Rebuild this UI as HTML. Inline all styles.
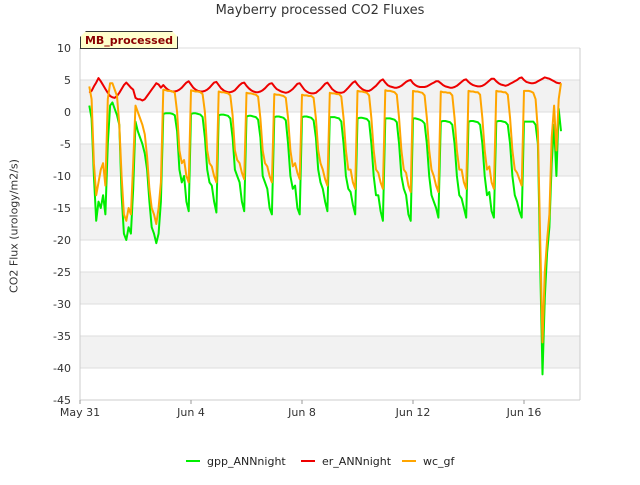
<!DOCTYPE html>
<html><head><meta charset="utf-8"><style>
body{margin:0;background:#fff;font-family:"Liberation Sans","DejaVu Sans",sans-serif}
svg text{font-family:"DejaVu Sans","Liberation Sans",sans-serif}
</style></head><body>
<svg id="c" width="640" height="480"></svg>
<script>
const yTicks=[10,5,0,-5,-10,-15,-20,-25,-30,-35,-40,-45];
const xTickDays=[0,4,8,12,16];
const xTickLabels=["May 31","Jun 4","Jun 8","Jun 12","Jun 16"];
const seriesNames=["gpp_ANNnight","er_ANNnight","wc_gf"];
const gpp=[1,-1,-10,-17,-14,-15,-13,-16,
-5,1,1.5,0.5,-0.5,-2,-13,-19,-20,-18,-19,-12,
-1.5,-3,-4,-5,-6.5,-9,-14,-18,-19,-20.5,-19,-14,
-0.3,-0.2,-0.2,-0.2,-0.3,-0.5,-3,-9,-11,-10,-14,-15.5,
-0.3,-0.2,-0.2,-0.3,-0.4,-0.8,-4,-9,-11,-11.5,-14,-15.7,
-0.5,-0.4,-0.4,-0.5,-0.6,-1,-4,-9,-10,-11,-14,-15.5,
-0.7,-0.6,-0.6,-0.7,-0.8,-1.2,-4,-10,-11,-12,-15,-16,
-0.8,-0.7,-0.7,-0.8,-0.9,-1.3,-5,-10,-12,-11.5,-15,-16,
-0.8,-0.7,-0.7,-0.8,-0.9,-1.3,-4,-9,-11,-12,-14,-15.5,
-0.8,-0.8,-0.8,-0.9,-1,-1.5,-5,-10,-12,-12.5,-14.5,-16,
-1,-0.9,-0.9,-1,-1.1,-1.5,-5,-10,-13,-13,-15.5,-17,
-1,-1,-1,-1.1,-1.2,-1.6,-5,-10,-12,-13,-16,-17,
-1,-1,-1.1,-1.2,-1.4,-1.8,-5,-10,-13,-14,-15,-16.5,
-1.5,-1.4,-1.4,-1.5,-1.6,-2,-5,-10,-13,-13.5,-15,-16.5,
-1.5,-1.4,-1.4,-1.5,-1.6,-2,-5,-10,-13,-12.5,-15.5,-16.5,
-1.5,-1.4,-1.4,-1.5,-1.6,-2,-5,-10,-13,-14,-15.5,-16.5,
-1.5,-1.5,-1.5,-1.5,-1.5,-2,-5,-24,-41,-29,-22,-18,
-8,-2,-10,0.5,-3];
const er=[3,3.3,4,4.6,5.3,4.8,4.2,3.6,
3,2.5,2.3,2.2,2.5,3,3.6,4.2,4.6,4.2,3.8,3.5,
2.2,2,2,1.8,2,2.5,3,3.5,4,4.5,4.3,3.8,
4.2,3.8,3.5,3.3,3.2,3.2,3.3,3.5,3.8,4.2,4.6,4.8,
4.3,3.8,3.5,3.3,3.2,3.2,3.3,3.5,3.8,4.2,4.6,4.7,
4.2,3.7,3.4,3.2,3.1,3.1,3.2,3.4,3.8,4.2,4.5,4.6,
4.1,3.7,3.4,3.2,3.1,3.1,3.2,3.4,3.7,4.1,4.4,4.5,
4.0,3.6,3.4,3.2,3.1,3.0,3.1,3.3,3.6,4.0,4.4,4.5,
4.0,3.5,3.2,3.0,2.9,2.9,3.0,3.3,3.6,4.0,4.4,4.6,
4.1,3.6,3.3,3.1,3.0,3.0,3.1,3.4,3.8,4.2,4.6,4.8,
4.3,3.9,3.6,3.4,3.3,3.3,3.5,3.8,4.1,4.5,4.9,5.1,
4.6,4.2,4.0,3.9,3.8,3.8,3.9,4.1,4.4,4.7,4.9,5.0,
4.5,4.2,4.0,3.9,3.9,3.9,4.0,4.2,4.4,4.6,4.8,4.8,
4.5,4.2,4.0,3.9,3.8,3.8,3.9,4.1,4.4,4.7,5.0,5.1,
4.7,4.4,4.2,4.1,4.0,4.0,4.1,4.3,4.6,4.9,5.2,5.2,
4.8,4.5,4.3,4.2,4.1,4.2,4.4,4.6,4.8,5.0,5.3,5.4,
5.0,4.7,4.6,4.5,4.5,4.6,4.8,5.0,5.2,5.4,5.3,5.2,
5.0,4.8,4.6,4.5,4.5];
const wc=[4,2,-8,-13,-11,-9,-8,-11.5,
2,4.5,4.5,3.5,2.5,-2,-10,-16,-17,-15,-16,-8,
1,0,-1,-2,-3.5,-7,-12,-15,-16,-17.5,-15,-11,
3.5,3.4,3.3,3.3,3.2,3,0,-6,-8,-7.5,-10,-11,
3.4,3.3,3.2,3.2,3.1,2.8,0,-6,-8,-8.5,-10,-11,
3.2,3.1,3.1,3,2.9,2.6,-0.5,-6,-7.5,-8,-9.5,-10.5,
3,2.9,2.9,2.8,2.7,2.4,-1,-6,-8,-8.5,-10,-11,
2.8,2.7,2.7,2.6,2.5,2.2,-1,-6,-8.5,-8,-9.5,-10.5,
2.7,2.6,2.6,2.5,2.5,2.2,-1,-6,-8,-9,-10.5,-11.5,
3,2.9,2.9,2.8,2.8,2.4,-1,-6,-9,-9,-11,-12,
3.3,3.2,3.2,3.1,3,2.6,-1,-6,-9,-9.5,-11,-12,
3.4,3.3,3.3,3.2,3.1,2.7,-1,-6,-9,-9.5,-11.5,-12.5,
3.3,3.2,3.2,3.1,3,2.6,-1,-6,-9,-10,-11.5,-12.5,
3.2,3.1,3.1,3,3,2.6,-1,-6,-9,-9,-11,-12,
3.3,3.2,3.2,3.1,3.1,2.7,-1,-6,-9,-8.5,-11,-12,
3.3,3.2,3.2,3.1,3.1,2.7,-1,-6,-9,-9.5,-10.5,-11.5,
3.3,3.3,3.3,3.2,3,2,-3,-20,-36,-25,-20,-16,
-4,1,-6,2,4.5];
const colors=["#00ee00","#ee0000","#ffa500"];
const L=80,R=580,T=48,B=400,yMin=-45,yMax=10,dayPx=27.75,t0=8/24,step=1/12;
const X=d=>L+d*dayPx, Y=v=>T+(yMax-v)/(yMax-yMin)*(B-T);
const ns="http://www.w3.org/2000/svg", svg=document.getElementById('c');
function mk(tag,at,parent){const e=document.createElementNS(ns,tag);for(const k in at)e.setAttribute(k,at[k]);(parent||svg).appendChild(e);return e;}
for(let v=5;v>yMin;v-=10){const b=mk('rect',{x:L,y:Y(v),width:R-L,height:Y(v-5)-Y(v),fill:'#f2f2f2'});

}
yTicks.forEach(v=>{const g=mk('line',{x1:L,x2:R,y1:Y(v),y2:Y(v),stroke:'#dddddd','stroke-width':1});


const t=mk('text',{x:L-9,y:Y(v)+4,'text-anchor':'end','font-size':11,fill:'#333'});t.textContent=v;

});
mk('line',{x1:L,x2:L,y1:T,y2:B,stroke:'#cccccc'});
mk('line',{x1:R,x2:R,y1:T,y2:B,stroke:'#cccccc'});
mk('line',{x1:L,x2:R,y1:B,y2:B,stroke:'#cccccc'});
xTickDays.forEach((d,i)=>{mk('line',{x1:X(d),x2:X(d),y1:B,y2:B+4,stroke:'#999'});
const t=mk('text',{x:X(d),y:B+16,'text-anchor':'middle','font-size':11,fill:'#333'});t.textContent=xTickLabels[i];

});
[gpp,er,wc].forEach((s,i)=>{const pts=s.map((v,j)=>X(t0+j*step).toFixed(1)+','+Y(v).toFixed(1)).join(' ');
const p=mk('polyline',{points:pts,fill:'none',stroke:colors[i],'stroke-width':2,'stroke-linejoin':'round'});

});
const lx=[186,301,402];
seriesNames.forEach((n,i)=>{mk('line',{x1:lx[i],x2:lx[i]+14,y1:461,y2:461,stroke:colors[i],'stroke-width':2});
const t=mk('text',{x:lx[i]+21,y:465,'font-size':11,fill:'#222'});t.textContent=n;

});
</script>
<div style="position:absolute;left:0;top:3px;width:640px;text-align:center;font:13px 'DejaVu Sans','Liberation Sans',sans-serif;color:#333">Mayberry processed CO2 Fluxes</div>
<div style="position:absolute;left:14px;top:226px;transform:translate(-50%,-50%) rotate(-90deg);font:11px 'DejaVu Sans','Liberation Sans',sans-serif;color:#333;white-space:nowrap">CO2 Flux (urology/m2/s)</div>
<div style="position:absolute;left:80px;top:31px;width:98px;height:18px;background:#ffffcc;border:1px solid #333;box-sizing:border-box;font:bold 11px 'DejaVu Sans','Liberation Sans',sans-serif;color:#8b0000;text-align:center;line-height:17px;clip-path:polygon(6px 0,92px 0,98px 6px,98px 18px,0 18px,0 6px)">MB_processed</div>
</body></html>
